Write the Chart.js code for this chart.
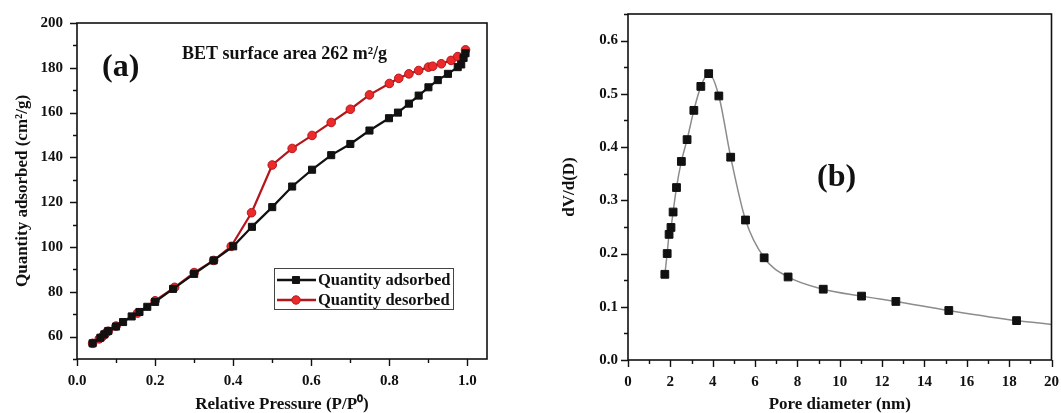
<!DOCTYPE html>
<html>
<head>
<meta charset="utf-8">
<script src="https://cdn.jsdelivr.net/npm/chart.js@4/dist/chart.umd.min.js"></script>
<style>
  html, body { margin: 0; padding: 0; background: #fff; overflow: hidden; }
  #wrap { position: relative; width: 1061px; height: 413px; overflow: hidden; }
  canvas { position: absolute; }
</style>
</head>
<body>
<div id="wrap">
  <canvas id="isotherm" width="540" height="413" style="left:0;top:0"></canvas>
  <canvas id="poreDist" width="532" height="418" style="left:540px;top:-5px"></canvas>
</div>
<script>
// (a) N2 isotherm
const pressureAds = [0.04, 0.06, 0.07, 0.08, 0.10, 0.118, 0.14, 0.16, 0.18, 0.20, 0.246, 0.30, 0.35, 0.40, 0.448, 0.50, 0.551, 0.602, 0.651, 0.70, 0.749, 0.799, 0.822, 0.85, 0.875, 0.90, 0.924, 0.95, 0.975, 0.984, 0.99, 0.995];
const quantityAds = [57, 59.5, 61, 62.5, 64.5, 66.5, 69, 71, 73.3, 75.5, 81.3, 88, 94, 100.3, 109, 117.8, 127, 134.5, 141, 146, 152, 157.5, 160, 164, 167.6, 171.3, 174.5, 177.3, 180.3, 181.5, 184.4, 186.5];
const pressureDes = [0.04, 0.057, 0.066, 0.072, 0.076, 0.08, 0.10, 0.155, 0.20, 0.25, 0.30, 0.35, 0.395, 0.447, 0.50, 0.551, 0.602, 0.651, 0.70, 0.749, 0.80, 0.824, 0.85, 0.875, 0.90, 0.911, 0.933, 0.958, 0.975, 0.995];
const quantityDes = [57, 59, 60.2, 61.2, 62, 62.4, 64.7, 70.5, 76, 82, 88.6, 94, 100.3, 115.3, 136.6, 144, 149.8, 155.6, 161.5, 167.9, 173, 175.3, 177.3, 178.8, 180.3, 180.7, 181.8, 183.3, 185, 188];
const isoXTicks = [0, 0.2, 0.4, 0.6, 0.8, 1.0];
const isoYTicks = [60, 80, 100, 120, 140, 160, 180, 200];

// (b) pore size distribution
const poreDiameter = [1.74, 1.85, 1.94, 2.03, 2.13, 2.29, 2.52, 2.79, 3.11, 3.44, 3.81, 4.29, 4.85, 5.55, 6.43, 7.56, 9.22, 11.03, 12.65, 15.15, 18.35, 23.0];
const dVdD = [0.161, 0.200, 0.236, 0.249, 0.278, 0.324, 0.373, 0.414, 0.469, 0.514, 0.538, 0.496, 0.381, 0.263, 0.192, 0.156, 0.133, 0.120, 0.110, 0.093, 0.074, 0.055];
const poreXTicks = [0, 2, 4, 6, 8, 10, 12, 14, 16, 18, 20];
const poreYTicks = [0.0, 0.1, 0.2, 0.3, 0.4, 0.5, 0.6];

const SERIF = "'Liberation Serif', 'Times New Roman', serif";
Chart.defaults.font.family = SERIF;
Chart.defaults.font.weight = 'bold';
Chart.defaults.color = '#111';

function toPoints(xs, ys) {
  return xs.map((x, i) => ({ x: x, y: ys[i] }));
}
function halfSteps(ticks, lo, hi) {
  const out = [];
  const step = ticks[1] - ticks[0];
  for (let v = ticks[0] - step / 2; v <= hi + 1e-9; v += step / 2) {
    if (v >= lo - 1e-9) out.push(v);
  }
  return out;
}

// box round the plot plus outward tick marks
const framePlugin = {
  id: 'frame',
  afterDraw(chart, args, opts) {
    const { ctx, chartArea: a } = chart;
    const xs = chart.scales.x, ys = chart.scales.y;
    ctx.save();
    ctx.strokeStyle = '#111';
    ctx.lineWidth = 1.6;
    ctx.strokeRect(a.left, a.top, a.right - a.left, a.bottom - a.top);
    ctx.lineWidth = 1.4;
    ctx.beginPath();
    opts.xMinor.forEach(v => {
      const px = Math.round(xs.getPixelForValue(v)) + 0.5;
      const len = opts.xMajor.some(m => Math.abs(m - v) < 1e-9) ? 7 : 4;
      ctx.moveTo(px, a.bottom); ctx.lineTo(px, a.bottom + len);
    });
    opts.yMinor.forEach(v => {
      const py = Math.round(ys.getPixelForValue(v)) + 0.5;
      const len = opts.yMajor.some(m => Math.abs(m - v) < 1e-9) ? 7 : 4;
      ctx.moveTo(a.left, py); ctx.lineTo(a.left - len, py);
    });
    ctx.stroke();
    ctx.restore();
  }
};

const notesPlugin = {
  id: 'notes',
  afterDraw(chart, args, opts) {
    const ctx = chart.ctx;
    const a = chart.chartArea;
    ctx.save();
    ctx.fillStyle = '#111';
    ctx.textBaseline = 'middle';
    (opts.items || []).forEach(n => {
      ctx.font = n.font;
      ctx.textAlign = n.align || 'left';
      ctx.fillText(n.text, a.left + n.dx, a.top + n.dy);
    });
    if (opts.legend) {
      const L = opts.legend;
      const bx = a.left + L.dx, by = a.top + L.dy;
      ctx.strokeStyle = '#444';
      ctx.lineWidth = 1;
      ctx.strokeRect(bx + 0.5, by + 0.5, L.w, L.h);
      chart.data.datasets.forEach((ds, i) => {
        const cy = by + 12 + i * 20;
        ctx.strokeStyle = ds.borderColor;
        ctx.lineWidth = 2.4;
        ctx.beginPath();
        ctx.moveTo(bx + 3, cy); ctx.lineTo(bx + 42, cy);
        ctx.stroke();
        ctx.fillStyle = ds.pointBackgroundColor;
        ctx.strokeStyle = ds.pointBorderColor;
        ctx.lineWidth = 1;
        ctx.beginPath();
        if (ds.pointStyle === 'rect') {
          ctx.rect(bx + 18.5, cy - 3.5, 7, 7);
        } else {
          ctx.arc(bx + 22, cy, 4.2, 0, Math.PI * 2);
        }
        ctx.fill(); ctx.stroke();
        ctx.fillStyle = '#111';
        ctx.font = 'bold 16.5px ' + SERIF;
        ctx.textAlign = 'left';
        ctx.fillText(ds.label, bx + 44, cy + 1);
      });
    }
    ctx.restore();
  }
};

function axis(min, max, ticks, fmt, titleText, fit, tickPad, titlePad) {
  return {
    type: 'linear',
    min: min, max: max,
    grid: { display: false, drawTicks: false },
    border: { display: false },
    afterBuildTicks: s => { s.ticks = ticks.map(v => ({ value: v })); },
    afterFit: fit,
    ticks: { font: { size: 15, weight: 'bold' }, color: '#111', callback: fmt, autoSkip: false, maxRotation: 0, padding: tickPad },
    title: { display: true, text: titleText, font: { size: 17, weight: 'bold' }, color: '#111', padding: titlePad }
  };
}

new Chart(document.getElementById('isotherm').getContext('2d'), {
  type: 'scatter',
  data: {
    datasets: [{
      label: 'Quantity adsorbed',
      data: toPoints(pressureAds, quantityAds),
      showLine: true,
      borderColor: '#111',
      borderWidth: 2.2,
      pointStyle: 'rect',
      pointRadius: 5,
      pointBackgroundColor: '#111',
      pointBorderColor: '#111',
      pointBorderWidth: 1
    }, {
      label: 'Quantity desorbed',
      data: toPoints(pressureDes, quantityDes),
      showLine: true,
      borderColor: '#b3161b',
      borderWidth: 2.2,
      pointStyle: 'circle',
      pointRadius: 4.3,
      pointBackgroundColor: '#ec2a2a',
      pointBorderColor: '#b3161b',
      pointBorderWidth: 1
    }]
  },
  options: {
    responsive: false,
    animation: false,
    layout: { padding: { left: 0, top: 22, right: 53, bottom: 0 } },
    scales: {
      x: axis(0, 1.05, isoXTicks, v => v.toFixed(1), 'Relative Pressure (P/P\u2070)',
        s => { s.height = 54; }, 13, { top: 0, bottom: -2 }),
      y: axis(50, 200, isoYTicks, v => String(v), 'Quantity adsorbed (cm\u00b2/g)',
        s => { s.width = 77; }, 14, { top: 12, bottom: 0 })
    },
    plugins: {
      legend: { display: false },
      tooltip: { enabled: false },
      frame: { xMajor: isoXTicks, xMinor: halfSteps(isoXTicks, 0, 1.05), yMajor: isoYTicks, yMinor: halfSteps(isoYTicks, 50, 200) },
      notes: {
        items: [
          { text: '(a)', dx: 25, dy: 45, font: 'bold 32px ' + SERIF },
          { text: 'BET surface area 262 m\u00b2/g', dx: 105, dy: 31, font: 'bold 18px ' + SERIF }
        ],
        legend: { dx: 197, dy: 245, w: 179, h: 41 }
      }
    }
  },
  plugins: [framePlugin, notesPlugin]
});

new Chart(document.getElementById('poreDist').getContext('2d'), {
  type: 'scatter',
  data: {
    datasets: [{
      label: 'dV/d(D)',
      data: toPoints(poreDiameter, dVdD),
      showLine: true,
      cubicInterpolationMode: 'monotone',
      borderColor: '#8c8c8c',
      borderWidth: 1.5,
      pointStyle: 'rect',
      pointRadius: 5.5,
      pointBackgroundColor: '#111',
      pointBorderColor: '#111',
      pointBorderWidth: 1
    }]
  },
  options: {
    responsive: false,
    animation: false,
    layout: { padding: { left: 0, top: 8, right: 0, bottom: 0 } },
    scales: {
      x: axis(0, 20, poreXTicks, v => String(v), 'Pore diameter (nm)',
        s => { s.height = 53; }, 13, { top: 0, bottom: -2 }),
      y: axis(0, 0.65, poreYTicks, v => v.toFixed(1), 'dV/d(D)',
        s => { s.width = 88; }, 10, { top: 19, bottom: 0 })
    },
    plugins: {
      legend: { display: false },
      tooltip: { enabled: false },
      frame: { xMajor: poreXTicks, xMinor: halfSteps(poreXTicks, 0, 20), yMajor: poreYTicks, yMinor: halfSteps(poreYTicks, 0, 0.65) },
      notes: {
        items: [
          { text: '(b)', dx: 189, dy: 164, font: 'bold 32px ' + SERIF }
        ]
      }
    }
  },
  plugins: [framePlugin, notesPlugin]
});
</script>
</body>
</html>
